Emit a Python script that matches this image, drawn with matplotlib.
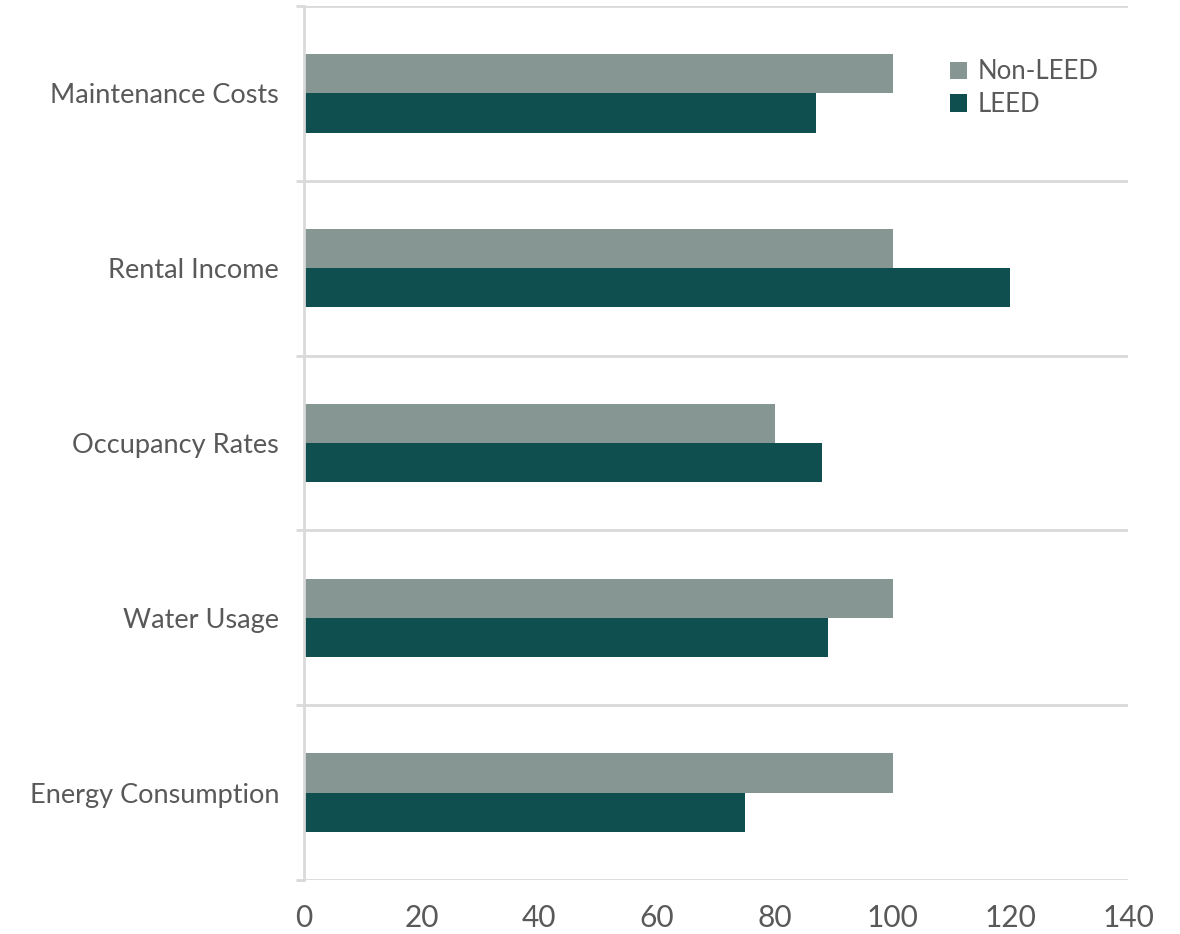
import matplotlib
matplotlib.use("Agg")
import matplotlib.pyplot as plt
import numpy as np

categories = ["Energy Consumption", "Water Usage", "Occupancy Rates", "Rental Income", "Maintenance Costs"]
non_leed = [100, 100, 80, 100, 100]
leed = [75, 89, 88, 120, 87]
x_ticks = [0, 20, 40, 60, 80, 100, 120, 140]

plt.rcParams['font.family'] = ['Lato', 'DejaVu Sans']
text_color = "#595959"
grid_color = "#D9D9D9"

fig = plt.figure(figsize=(11.8, 9.34), dpi=100)
ax = fig.add_axes([304/1180, 1 - 880/934, (1128-304)/1180, (880-6)/934])

y = np.arange(len(categories))
h = 0.224
ax.barh(y + h/2, non_leed, height=h, color="#869693", label="Non-LEED", zorder=3)
ax.barh(y - h/2, leed, height=h, color="#0F4F4F", label="LEED", zorder=3)

ax.set_xlim(0, 140)
ax.set_ylim(-0.5, len(categories) - 0.5)
ax.set_xticks(x_ticks)
ax.set_xticklabels([str(v) for v in x_ticks])
ax.set_yticks(y)
ax.set_yticklabels(categories)

ax.set_yticks(np.arange(-0.5, len(categories)), minor=True)
ax.grid(which="minor", axis="y", color=grid_color, linewidth=2, zorder=0)
ax.tick_params(axis="y", which="minor", length=6, width=2, color=grid_color, left=True)
ax.tick_params(axis="y", which="major", length=0, pad=18, labelsize=19.5, labelcolor=text_color)
ax.tick_params(axis="x", which="major", length=0, pad=17, labelsize=21.5, labelcolor=text_color)

for s in ["top", "right", "bottom"]:
    ax.spines[s].set_visible(False)
ax.spines["left"].set_color(grid_color)
ax.spines["left"].set_linewidth(2)
ax.spines["left"].set_zorder(4)

leg = ax.legend(loc="upper left", bbox_to_anchor=((940-304)/(1128-304), 1 - (49-6)/874),
                frameon=False, fontsize=18.5, handlelength=0.65, handleheight=0.65,
                handletextpad=0.4, labelspacing=0.3, borderaxespad=0)
for t in leg.get_texts():
    t.set_color(text_color)

fig.savefig("out.png", dpi=100)
